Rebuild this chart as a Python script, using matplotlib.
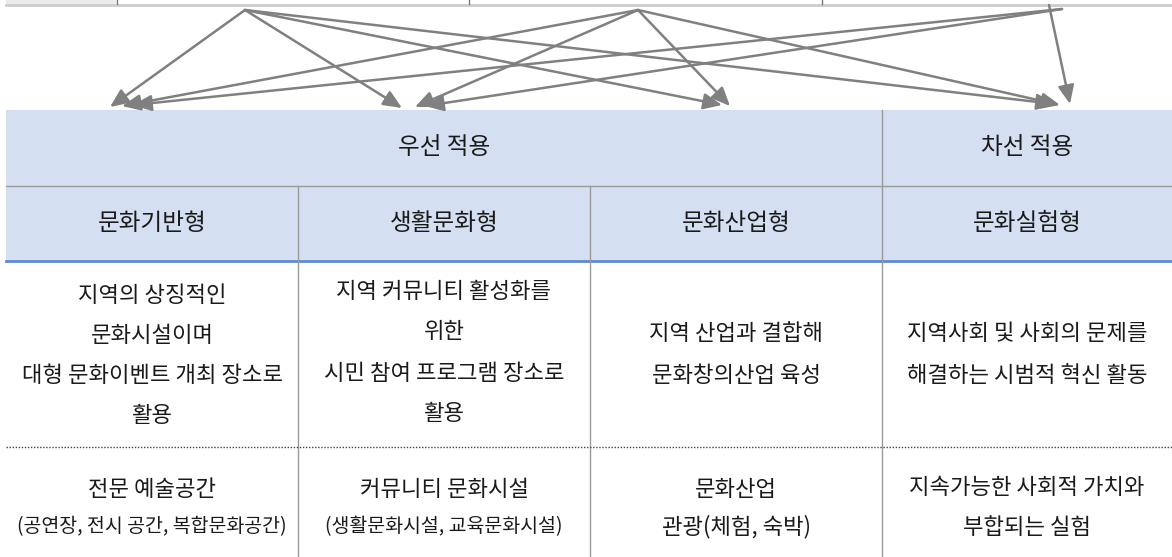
import matplotlib
matplotlib.use("Agg")
import matplotlib.pyplot as plt
from matplotlib.patches import Rectangle

plt.rcParams['font.family'] = ['Noto Sans CJK KR', 'DejaVu Sans']

W, H = 1172, 557

# ---- data ----
group_labels = ["우선 적용", "차선 적용"]
type_labels = ["문화기반형", "생활문화형", "문화산업형", "문화실험형"]
role_lines = [
    ["지역의 상징적인", "문화시설이며", "대형 문화이벤트 개최 장소로", "활용"],
    ["지역 커뮤니티 활성화를", "위한", "시민 참여 프로그램 장소로", "활용"],
    ["지역 산업과 결합해", "문화창의산업 육성"],
    ["지역사회 및 사회의 문제를", "해결하는 시범적 혁신 활동"],
]
role_y = [
    [296, 336, 376, 415],
    [291, 332, 373, 413],
    [333, 375],
    [333, 375],
]
space_main = ["전문 예술공간", "커뮤니티 문화시설", "문화산업", "지속가능한 사회적 가치와"]
space_sub = ["(공연장, 전시 공간, 복합문화공간)", "(생활문화시설, 교육문화시설)", "관광(체험, 숙박)", "부합되는 실험"]
space_sub_condensed = [True, True, False, False]

# arrows: (source x, source y, target tip x, target tip y)
arrow_src_x = [245, 638, 1062, 245, 638, 1062, 245, 638, 245, 638, 1049]
arrow_src_y = [10, 10, 9, 10, 10, 9, 10, 10, 10, 10, 5]
arrow_dst_x = [110, 122, 133, 402, 415, 425, 722, 730, 1055, 1060, 1070]
arrow_dst_y = [107, 106, 105, 108, 107, 106, 105, 106, 104, 105, 104]

# column boundaries
col_edges = [6, 298, 590, 882, 1172]

fig = plt.figure(figsize=(W / 100, H / 100), dpi=100)
ax = fig.add_axes([0, 0, 1, 1])
ax.set_xlim(0, W)
ax.set_ylim(H, 0)
ax.axis('off')

grey_line = '#9a9a9a'
txt = '#1a1a1a'
body_fs = 16
head_fs = 17

# top strip (cut-off upper table)
ax.add_patch(Rectangle((6, 0), 110, 4, facecolor='#ebebeb', edgecolor='none'))
ax.plot([6, W], [4.5, 4.5], color='#cccccc', lw=2)
for x in [116.5, 469, 822]:
    ax.plot([x, x], [0, 4], color='#777777', lw=1)

# header backgrounds
ax.add_patch(Rectangle((6, 110), W - 6, 151, facecolor='#d5dff2', edgecolor='none'))
ax.plot([6, W], [186, 186], color=grey_line, lw=1)
ax.plot([6, W], [261, 261], color='#6188d8', lw=2)

# vertical lines
ax.plot([882, 882], [110, H], color=grey_line, lw=1)
for x in [298, 590]:
    ax.plot([x, x], [186, H], color=grey_line, lw=1)

# dotted separator
ax.plot([6, W], [447, 447], color='#444444', lw=1, ls=(0, (1, 1.2)))

# group labels
ax.text((6 + 882) / 2, 148, group_labels[0], ha='center', va='center', fontsize=head_fs, color=txt)
ax.text((882 + W) / 2, 148, group_labels[1], ha='center', va='center', fontsize=head_fs, color=txt)

centers = [(col_edges[i] + col_edges[i + 1]) / 2 for i in range(4)]
for i, c in enumerate(centers):
    ax.text(c, 223, type_labels[i], ha='center', va='center', fontsize=head_fs, color=txt)
    for line, y in zip(role_lines[i], role_y[i]):
        ax.text(c, y, line, ha='center', va='center', fontsize=body_fs, color=txt)
    y_main = 487 if i == 3 else 490
    ax.text(c, y_main, space_main[i], ha='center', va='center', fontsize=body_fs, color=txt)
    fs = 14 if space_sub_condensed[i] else body_fs
    ax.text(c, 527, space_sub[i], ha='center', va='center', fontsize=fs, color=txt)

# arrows
for sx, sy, dx, dy in zip(arrow_src_x, arrow_src_y, arrow_dst_x, arrow_dst_y):
    ax.annotate('', xy=(dx, dy), xytext=(sx, sy),
                arrowprops=dict(arrowstyle='-|>,head_length=0.8,head_width=0.35',
                                mutation_scale=14, color='#808080', lw=1.8,
                                shrinkA=0, shrinkB=0))

fig.savefig('out.png', dpi=100)
